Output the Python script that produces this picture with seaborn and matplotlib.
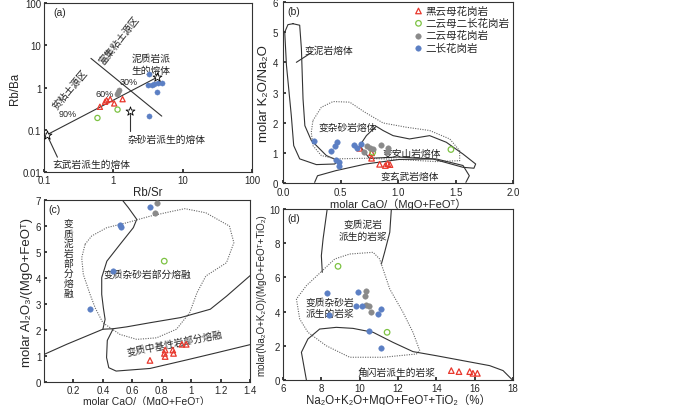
import matplotlib
matplotlib.use("Agg")
import matplotlib.pyplot as plt
import seaborn as sns

# ---------------- data ----------------
RED, GREEN, GRAY, BLUE = "#e8372c", "#7cc242", "#8a8a8a", "#5b7fc4"
groups = ["黑云母花岗岩", "二云母二长花岗岩", "二云母花岗岩", "二长花岗岩"]

# (a) Rb/Sr vs Rb/Ba
a_red_x = [0.64, 0.76, 0.80, 0.90, 1.03, 1.36]
a_red_y = [0.35, 0.46, 0.50, 0.53, 0.42, 0.53]
a_green_x = [0.59, 1.15]
a_green_y = [0.19, 0.30]
a_gray_x = [1.12, 1.15, 1.22]
a_gray_y = [0.72, 0.79, 0.86]
a_blue_x = [3.25, 3.15, 3.59, 3.80, 4.34, 5.08, 4.24, 3.32]
a_blue_y = [2.07, 1.16, 1.13, 1.20, 1.31, 1.31, 0.79, 0.21]
a_star_x = [0.112, 4.24, 1.76]
a_star_y = [0.077, 1.73, 0.28]
a_mix_x = [0.112, 4.24]
a_mix_y = [0.077, 1.73]
a_tick_x = [0.24, 0.82, 1.84]
a_tick_y = [0.148, 0.424, 0.847]
a_tick_lab = ["90%", "60%", "30%"]
a_div_x = [0.475, 5.0]
a_div_y = [4.9, 0.21]

# (b) CaO/(MgO+FeOT) vs K2O/Na2O
b_red_x = [0.667, 0.77, 0.77, 0.84, 0.89, 0.91, 0.93]
b_red_y = [1.15, 1.00, 0.82, 0.62, 0.58, 0.64, 0.61]
b_green_x = [0.78, 1.46]
b_green_y = [1.02, 1.11]
b_gray_x = [0.73, 0.70, 0.76, 0.78, 0.85, 0.91, 0.90]
b_gray_y = [1.21, 1.04, 1.15, 1.13, 1.26, 1.15, 1.04]
b_blue_x = [0.27, 0.42, 0.455, 0.47, 0.464, 0.49, 0.49, 0.62, 0.64, 0.68]
b_blue_y = [1.39, 1.05, 1.21, 1.35, 0.76, 0.69, 0.58, 1.27, 1.16, 1.30]
b_pel_x = [0.087, 0.145, 0.16, 0.174, 0.19, 0.246, 0.377, 0.478, 0.45, 0.29, 0.145, 0.093, 0.072, 0.03, 0.015, 0.043, 0.087]
b_pel_y = [5.28, 5.23, 4.45, 2.79, 1.90, 1.41, 0.91, 0.74, 0.63, 0.61, 0.80, 1.24, 2.24, 3.90, 5.00, 5.25, 5.28]
b_gw_x = [0.26, 0.333, 0.435, 0.58, 0.71, 0.87, 1.07, 1.275, 1.45, 1.536, 1.536, 1.33, 1.01, 0.72, 0.46, 0.333, 0.26, 0.246, 0.26]
b_gw_y = [2.07, 2.51, 2.70, 2.68, 2.35, 1.99, 1.85, 1.74, 1.46, 1.07, 0.74, 0.71, 0.78, 0.82, 0.80, 0.91, 1.24, 1.68, 2.07]
b_and_x = [0.667, 0.725, 0.81, 0.87, 0.957, 1.10, 1.275, 1.42, 1.565, 1.675, 1.66, 1.565, 1.30, 1.00, 0.75, 0.667]
b_and_y = [1.24, 1.57, 1.88, 1.74, 1.57, 1.46, 1.57, 1.35, 0.96, 0.63, 0.49, 0.52, 0.80, 0.86, 0.82, 1.24]
b_bas_x = [0.275, 0.30, 0.46, 0.72, 1.01, 1.33, 1.565, 1.62, 1.59]
b_bas_y = [0.02, 0.24, 0.41, 0.63, 0.78, 0.80, 0.58, 0.24, 0.02]

# (c) CaO/(MgO+FeOT) vs Al2O3/(MgO+FeOT)
c_red_x = [0.72, 0.823, 0.818, 0.823, 0.875, 0.88, 0.937, 0.966]
c_red_y = [0.83, 1.23, 1.10, 0.98, 1.23, 1.10, 1.45, 1.45]
c_green_x = [0.817]
c_green_y = [4.65]
c_gray_x = [0.77, 0.756]
c_gray_y = [6.90, 6.51]
c_blue_x = [0.718, 0.516, 0.523, 0.466, 0.312]
c_blue_y = [6.74, 6.03, 5.96, 4.29, 2.79]
c_pel_x = [0.528, 0.573, 0.63, 0.607, 0.517, 0.427, 0.392, 0.392, 0.403, 0.415, 0.40]
c_pel_y = [7.03, 6.71, 6.26, 5.94, 5.30, 4.65, 4.02, 3.37, 2.86, 2.41, 2.03]
c_diag_x = [0.0, 0.154, 0.40, 0.47, 0.56, 0.72, 0.93, 1.13, 1.24, 1.41]
c_diag_y = [1.06, 1.45, 2.03, 2.05, 2.12, 2.28, 2.48, 2.80, 3.30, 4.14]
c_mafic_x = [0.47, 0.43, 0.425, 0.44, 0.49, 0.72, 0.97, 1.17, 1.41]
c_mafic_y = [2.05, 1.60, 0.94, 0.55, 0.42, 0.52, 0.85, 1.12, 1.45]
c_gw_x = [0.279, 0.324, 0.427, 0.563, 0.72, 0.88, 0.957, 1.10, 1.26, 1.29, 1.24, 1.10, 1.04, 0.99, 0.90, 0.765, 0.63, 0.516, 0.40, 0.347, 0.313, 0.267, 0.256, 0.279]
c_gw_y = [5.30, 5.62, 5.94, 6.13, 6.38, 6.58, 6.67, 6.51, 6.00, 5.36, 4.59, 4.08, 3.44, 2.67, 2.03, 1.70, 1.64, 1.83, 2.28, 2.86, 3.37, 4.14, 4.78, 5.30]

# (d) Na2O+K2O+MgO+FeOT+TiO2 vs (Na2O+K2O)/(MgO+FeOT+TiO2)
d_red_x = [14.78, 15.18, 15.74, 15.91, 16.14]
d_red_y = [0.55, 0.49, 0.49, 0.39, 0.39]
d_green_x = [8.87, 11.43]
d_green_y = [6.65, 2.79]
d_gray_x = [10.35, 10.28, 10.35, 10.49, 10.59]
d_gray_y = [5.22, 4.89, 4.39, 4.31, 3.99]
d_blue_x = [8.31, 9.91, 9.79, 10.12, 10.96, 11.10, 10.49, 11.13, 8.40]
d_blue_y = [5.09, 5.13, 4.31, 4.35, 3.86, 4.15, 2.88, 1.85, 3.80]
d_pel_l_x = [8.30, 8.09, 8.00, 8.05]
d_pel_l_y = [9.96, 8.25, 7.27, 6.30]
d_pel_r_x = [11.65, 11.57, 11.30, 11.13]
d_pel_r_y = [9.96, 8.64, 7.47, 6.78]
d_gw_x = [8.0, 8.7, 9.48, 10.7, 11.04, 11.57, 12.26, 12.78, 13.13, 12.96, 11.22, 9.48, 8.26, 7.30, 6.87, 6.70, 7.22, 8.0]
d_gw_y = [6.34, 7.08, 7.37, 7.47, 7.08, 5.32, 3.96, 2.79, 1.72, 1.52, 1.33, 1.33, 2.00, 2.79, 3.57, 4.74, 5.52, 6.34]
d_amp_x = [7.22, 6.96, 7.30, 7.91, 8.78, 9.65, 10.70, 11.74, 12.78, 14.0, 15.39, 16.78, 17.48, 17.97]
d_amp_y = [0.0, 1.62, 2.40, 2.98, 3.08, 3.02, 2.79, 2.20, 1.66, 1.42, 1.13, 0.84, 0.55, 0.0]

# ---------------- style ----------------
sns.set_theme(style="ticks")
plt.rcParams["font.family"] = ["Liberation Sans", "Noto Sans CJK SC", "DejaVu Sans"]
plt.rcParams["axes.linewidth"] = 0.8
plt.rcParams["xtick.labelsize"] = 7
plt.rcParams["ytick.labelsize"] = 7
plt.rcParams["xtick.direction"] = "in"
plt.rcParams["ytick.direction"] = "in"
plt.rcParams["xtick.major.size"] = 2
plt.rcParams["ytick.major.size"] = 2
plt.rcParams["xtick.major.pad"] = 2
plt.rcParams["ytick.major.pad"] = 2

LINE = dict(color="#333333", lw=0.8)
DOT = dict(color="#666666", lw=0.8, ls=(0, (1, 1.2)))
TXT = dict(fontsize=7, color="#222222")
LAB = 8.3


def draw_points(ax, red, green, gray, blue, s=16, legend=False):
    styles = [("^", RED, True), ("o", GREEN, True), ("o", GRAY, False), ("o", BLUE, False)]
    for (xs, ys), name, (marker, col, hollow) in zip([red, green, gray, blue], groups, styles):
        if hollow:
            kw = dict(facecolor="none", edgecolor=col, linewidth=0.9)
        else:
            kw = dict(color=col, edgecolor=col, linewidth=0.3)
        sns.scatterplot(x=xs, y=ys, ax=ax, marker=marker, s=s, zorder=5,
                        label=name if legend else None, **kw)


fig = plt.figure(figsize=(7, 4.06), dpi=100)
ax_a = fig.add_axes([0.0629, 0.574, 0.297, 0.416])
ax_b = fig.add_axes([0.4043, 0.5468, 0.3286, 0.4458])
ax_c = fig.add_axes([0.0629, 0.0567, 0.2943, 0.448])
ax_d = fig.add_axes([0.4043, 0.0616, 0.3286, 0.421])

# ---------------- (a) ----------------
ax = ax_a
ax.set_xscale("log")
ax.set_yscale("log")
ax.set_xlim(0.1, 100)
ax.set_ylim(0.01, 100)
ax.set_xticks([0.1, 1, 10, 100], ["0.1", "1", "10", "100"])
ax.set_yticks([0.01, 0.1, 1, 10, 100], ["0.01", "0.1", "1", "10", "100"])
ax.minorticks_off()
ax.plot(a_mix_x, a_mix_y, **LINE)
ax.plot(a_div_x, a_div_y, **LINE)
sns.scatterplot(x=a_tick_x, y=a_tick_y, ax=ax, marker=(2, 0, 27), s=14, color="#333333", linewidth=0.8)
for tx, ty, tl in zip(a_tick_x, a_tick_y, a_tick_lab):
    ax.annotate(tl, (tx, ty), xytext=(-2, 5), textcoords="offset points", ha="center", fontsize=6.5)
draw_points(ax, (a_red_x, a_red_y), (a_green_x, a_green_y), (a_gray_x, a_gray_y), (a_blue_x, a_blue_y), s=14)
sns.scatterplot(x=a_star_x, y=a_star_y, ax=ax, marker="*", s=45, facecolor="white", edgecolor="black", linewidth=0.6, zorder=6)
ax.plot([1.76, 1.76], [0.23, 0.093], **LINE)
ax.plot([0.115, 0.156], [0.065, 0.0224], **LINE)
ax.text(0.135, 52, "(a)", fontsize=7.5)
ax.text(1.82, 3.6, "泥质岩派\n生的熔体", ha="left", va="center", linespacing=1.15, **TXT)
ax.text(5.8, 0.062, "杂砂岩派生的熔体", ha="center", va="center", **TXT)
ax.text(0.49, 0.0158, "玄武岩派生的熔体", ha="center", va="center", **TXT)
ax.text(1.22, 14.0, "富集粘土源区", rotation=52, ha="center", va="center", **TXT)
ax.text(0.24, 0.95, "贫粘土源区", rotation=50, ha="center", va="center", **TXT)
ax.set_xlabel("Rb/Sr", fontsize=LAB, labelpad=1)
ax.set_ylabel("Rb/Ba", fontsize=LAB, labelpad=1)

# ---------------- (b) ----------------
ax = ax_b
ax.set_xlim(0, 2)
ax.set_ylim(0, 6)
ax.set_xticks([0, 0.5, 1.0, 1.5, 2.0], ["0.0", "0.5", "1.0", "1.5", "2.0"])
ax.set_yticks(range(7))
ax.tick_params(axis="y", pad=3.5)
ax.tick_params(axis="x", pad=3)
ax.plot(b_pel_x, b_pel_y, **LINE)
ax.plot(b_gw_x, b_gw_y, **DOT)
ax.plot(b_and_x, b_and_y, **LINE)
ax.plot(b_bas_x, b_bas_y, **LINE)
ax.plot([0.116, 0.246], [4.0, 4.32], **LINE)
draw_points(ax, (b_red_x, b_red_y), (b_green_x, b_green_y), (b_gray_x, b_gray_y), (b_blue_x, b_blue_y), s=16, legend=True)
ax.text(0.04, 5.6, "(b)", fontsize=7.5)
ax.text(0.40, 4.43, "变泥岩熔体", ha="center", va="center", **TXT)
ax.text(0.565, 1.85, "变杂砂岩熔体", ha="center", va="center", **TXT)
ax.text(1.12, 1.0, "变安山岩熔体", ha="center", va="center", **TXT)
ax.text(1.10, 0.24, "变玄武岩熔体", ha="center", va="center", **TXT)
ax.legend(loc="upper right", frameon=False, fontsize=7.6, handletextpad=0.05,
          labelspacing=0.22, borderaxespad=0.15, borderpad=0.2, handlelength=1.2)
ax.set_xlabel("molar CaO/（MgO+FeOᵀ）", fontsize=8, labelpad=0.3)
ax.set_ylabel("molar K₂O/Na₂O", fontsize=9.5, labelpad=2)

# ---------------- (c) ----------------
ax = ax_c
ax.set_xlim(0, 1.4)
ax.set_ylim(0, 7)
ax.set_xticks([0.2, 0.4, 0.6, 0.8, 1.0, 1.2, 1.4], ["0.2", "0.4", "0.6", "0.8", "1", "1.2", "1.4"])
ax.set_yticks(range(8))
ax.plot(c_pel_x, c_pel_y, **LINE)
ax.plot(c_diag_x, c_diag_y, **LINE)
ax.plot(c_mafic_x, c_mafic_y, **LINE)
ax.plot(c_gw_x, c_gw_y, **DOT)
draw_points(ax, (c_red_x, c_red_y), (c_green_x, c_green_y), (c_gray_x, c_gray_y), (c_blue_x, c_blue_y), s=16)
ax.text(0.03, 6.55, "(c)", fontsize=7.5)
ax.text(0.165, 4.76, "\n".join("变质泥岩部分熔融"), ha="center", va="center", linespacing=1.0, **TXT)
ax.text(0.70, 4.18, "变质杂砂岩部分熔融", ha="center", va="center", **TXT)
ax.text(0.89, 1.51, "变质中基性岩部分熔融", rotation=11, ha="center", va="center", **TXT)
ax.set_xlabel("molar CaO/（MgO+FeOᵀ）", fontsize=7.5, labelpad=0.5)
ax.set_ylabel("molar Al₂O₃/(MgO+FeOᵀ)", fontsize=9.5, labelpad=2)

# ---------------- (d) ----------------
ax = ax_d
ax.set_xlim(6, 18)
ax.set_ylim(0, 10)
ax.set_xticks(range(6, 19, 2))
ax.set_yticks(range(0, 11, 2))
ax.plot(d_pel_l_x, d_pel_l_y, **LINE)
ax.plot(d_pel_r_x, d_pel_r_y, **LINE)
ax.plot(d_gw_x, d_gw_y, **DOT)
ax.plot(d_amp_x, d_amp_y, **LINE)
draw_points(ax, (d_red_x, d_red_y), (d_green_x, d_green_y), (d_gray_x, d_gray_y), (d_blue_x, d_blue_y), s=16)
ax.text(6.25, 9.3, "(d)", fontsize=7.5)
ax.text(10.17, 8.79, "变质泥岩\n派生的岩浆", ha="center", va="center", **TXT)
ax.text(8.43, 4.25, "变质杂砂岩\n派生的岩浆", ha="center", va="center", **TXT)
ax.text(11.91, 0.49, "角闪岩派生的岩浆", ha="center", va="center", **TXT)
ax.set_xlabel("Na₂O+K₂O+MgO+FeOᵀ+TiO₂（%）", fontsize=LAB, labelpad=0.5)
ax.set_ylabel("molar(Na₂O+K₂O)/(MgO+FeOᵀ+TiO₂)", fontsize=7, labelpad=2)

for ax in (ax_a, ax_b, ax_c, ax_d):
    for sp in ax.spines.values():
        sp.set_visible(True)
        sp.set_color("#333333")

fig.savefig("out.png", dpi=100)
